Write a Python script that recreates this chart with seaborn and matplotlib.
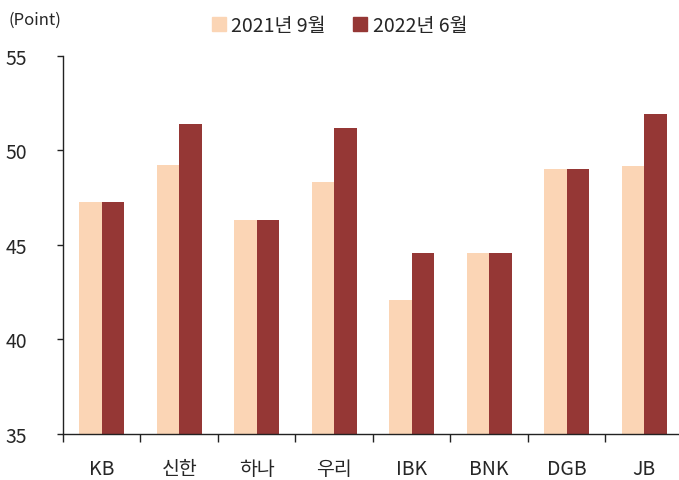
import matplotlib

matplotlib.use("Agg")

import matplotlib.pyplot as plt
import matplotlib.ticker as mticker
import pandas as pd
import seaborn as sns

bancos = ["KB", "신한", "하나", "우리", "IBK", "BNK", "DGB", "JB"]
periodos = ["2021년 9월", "2022년 6월"]
set_2021 = [47.25, 49.25, 46.3, 48.35, 42.1, 44.6, 49.0, 49.2]
jun_2022 = [47.25, 51.4, 46.3, 51.2, 44.6, 44.6, 49.0, 51.95]
cores = ["#FBD5B5", "#953735"]

df = pd.DataFrame({
    "banco": bancos * 2,
    "periodo": [periodos[0]] * len(bancos) + [periodos[1]] * len(bancos),
    "valor": set_2021 + jun_2022,
})

sns.set_theme(style="white")
plt.rcParams["font.family"] = ["Noto Sans CJK KR", "DejaVu Sans"]

fig = plt.figure(figsize=(6.79, 4.81), dpi=100)
ax = fig.add_axes([63 / 679, 46 / 481, 616 / 679, 378 / 481])

sns.barplot(data=df, x="banco", y="valor", hue="periodo", palette=cores,
            width=0.58, gap=0, saturation=1, linewidth=0, ax=ax, legend=False)

ax.set_ylim(35, 55)
ax.set_xlim(-0.5, 7.45)
ax.yaxis.set_major_locator(mticker.MultipleLocator(5))
ax.set_xlabel("")
ax.set_ylabel("")

for lado in ["top", "right"]:
    ax.spines[lado].set_visible(False)
for lado in ["left", "bottom"]:
    ax.spines[lado].set_color("#222222")
    ax.spines[lado].set_linewidth(1.0)

ax.xaxis.set_minor_locator(mticker.FixedLocator([i - 0.5 for i in range(len(bancos) + 1)]))
ax.tick_params(axis="x", which="major", length=0, pad=17, labelsize=14)
ax.tick_params(axis="x", which="minor", length=6, width=1, color="#222222", direction="out")
ax.tick_params(axis="y", length=4, width=1, color="#222222", direction="out", pad=22,
               labelsize=14)
ax.tick_params(axis="both", bottom=True, left=True, which="both")
ax.tick_params(axis="x", which="major", bottom=False)

fig.text(0.012, 0.957, "(Point)", fontsize=12, ha="left", va="center")

alcas = [plt.Rectangle((0, 0), 1, 1, color=c) for c in cores]
fig.legend(alcas, periodos, loc="center", bbox_to_anchor=(0.5, 0.945), ncol=2,
           frameon=False, fontsize=14, handlelength=0.7, handleheight=0.7,
           handletextpad=0.3, columnspacing=1.4)

fig.savefig("out.png", dpi=100)
